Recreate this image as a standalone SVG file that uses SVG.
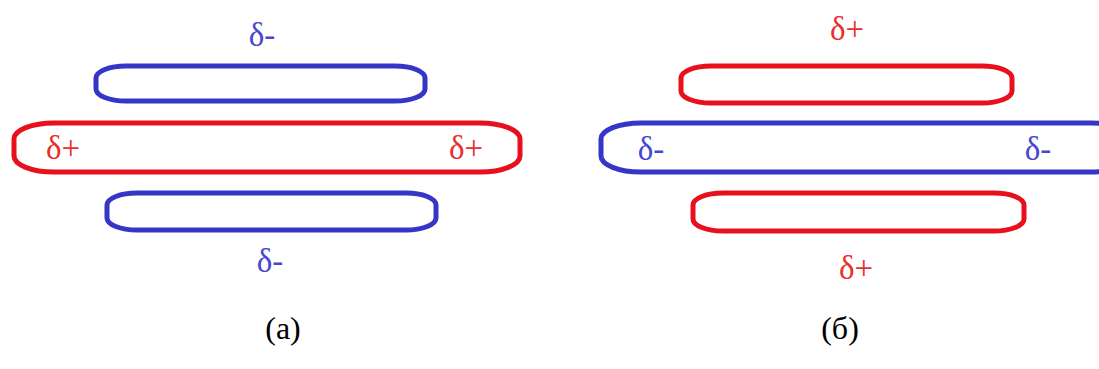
<svg xmlns="http://www.w3.org/2000/svg" width="1099" height="369" viewBox="0 0 1099 369">
<style>
.b{fill:none;stroke:#3535c8;stroke-width:5}
.r{fill:none;stroke:#e8101c;stroke-width:5}
.tb{fill:#4646d0;font-family:"Liberation Serif",serif;font-size:33px;text-anchor:middle}
.tr{fill:#e8302e;font-family:"Liberation Serif",serif;font-size:33px;text-anchor:middle}
.cap{fill:#000;font-family:"Liberation Serif",serif;font-size:32px;text-anchor:middle}
</style>
<rect width="1099" height="369" fill="#fff"/>
<g id="a-top"><rect class="b" x="96" y="66" width="329" height="35" rx="30" ry="12"/></g>
<g id="a-mid"><rect class="r" x="14" y="123" width="506" height="49" rx="40" ry="16"/></g>
<g id="a-bot"><rect class="b" x="107" y="193" width="329" height="37" rx="30" ry="12"/></g>
<g id="b-top"><rect class="r" x="681" y="66" width="331" height="37" rx="30" ry="12"/></g>
<g id="b-mid"><rect class="b" x="601" y="123" width="530" height="49" rx="40" ry="16"/></g>
<g id="b-bot"><rect class="r" x="693" y="193" width="331" height="38" rx="30" ry="12"/></g>
<g id="labels">
<text class="tb" x="262" y="46">δ-</text>
<text class="tr" x="63" y="159">δ+</text>
<text class="tr" x="466" y="159">δ+</text>
<text class="tb" x="270" y="272">δ-</text>
<text class="tr" x="847" y="40">δ+</text>
<text class="tb" x="651" y="160">δ-</text>
<text class="tb" x="1038" y="160">δ-</text>
<text class="tr" x="856" y="279">δ+</text>
<text class="cap" x="283" y="339">(a)</text>
<text class="cap" x="840" y="339">(б)</text>
</g>
</svg>
